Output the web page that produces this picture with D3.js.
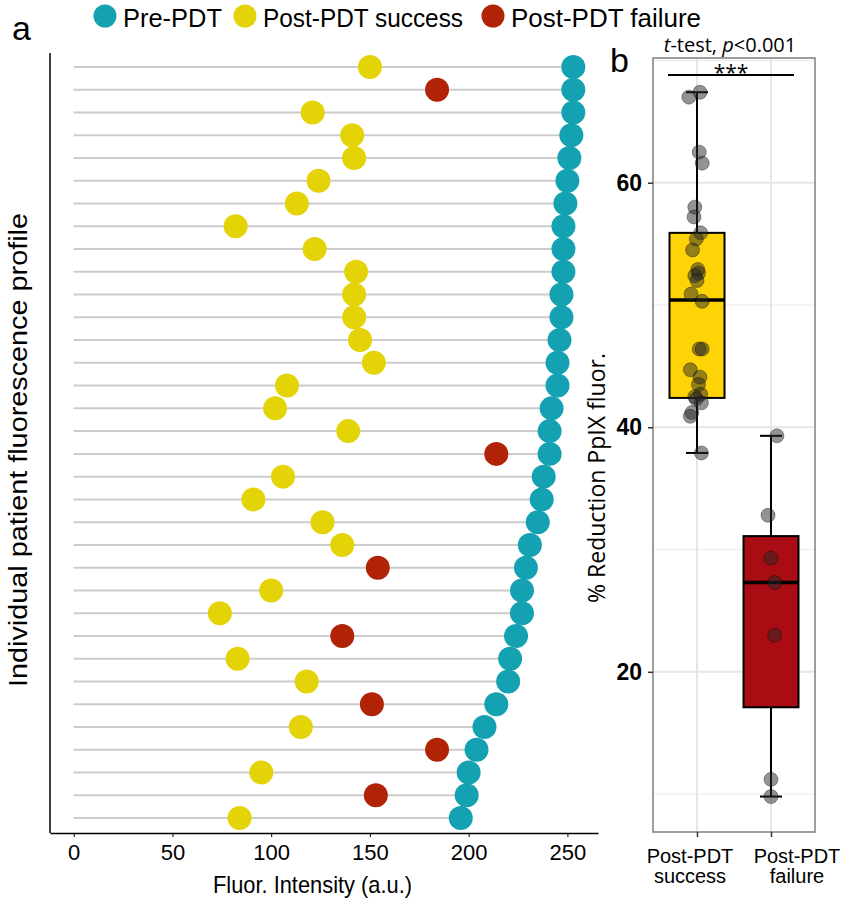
<!DOCTYPE html>
<meta charset="utf-8">
<script src="https://d3js.org/d3.v7.min.js"></script>
<style>
  body { margin: 0; background: #fff; }
  svg text { font-family: "Liberation Sans", Arial, sans-serif; }
  svg text.calib { font-family: "Open Sans", sans-serif; }
</style>
<div id="chart"></div>
<script>
  // panel a: one row per patient, top to bottom
  var preValues  = [253, 253, 253, 252, 251, 250, 249, 248, 248, 248, 247, 247, 246, 245, 245, 242, 241,
                    241, 238, 237, 235, 231, 229, 227, 227, 224, 221, 220, 214, 208, 204, 200, 199, 196];
  var postValues = [150, 184, 121, 141, 142, 124, 113, 82, 122, 143, 142, 142, 145, 152, 108, 102, 139,
                    214, 106, 91, 126, 136, 154, 100, 74, 136, 83, 118, 151, 115, 184, 95, 153, 84];
  var outcome    = ["S", "F", "S", "S", "S", "S", "S", "S", "S", "S", "S", "S", "S", "S", "S", "S", "S",
                    "F", "S", "S", "S", "S", "F", "S", "S", "F", "S", "S", "F", "S", "F", "S", "F", "S"];
  var xTicks = [0, 50, 100, 150, 200, 250];

  // panel b: % reduction
  var groups = ["Post-PDT success", "Post-PDT failure"];
  var successPts = [67.4, 67.0, 62.5, 61.6, 58.0, 57.2, 55.9, 55.4, 54.5, 52.9, 52.6, 52.4, 52.0, 50.9,
                    50.3, 46.4, 46.4, 44.7, 44.1, 43.5, 42.7, 42.5, 42.3, 42.0, 41.2, 40.9, 37.9];
  var successJitter = [0.04, -0.11, 0.03, 0.07, -0.03, -0.04, 0.05, -0.01, -0.06, 0.01, 0.02, -0.03, 0.0,
                       -0.08, 0.07, 0.03, 0.07, -0.09, 0.04, 0.02, 0.05, -0.03, -0.01, 0.06, -0.07, -0.09, 0.06];
  var failurePts = [39.3, 32.8, 29.3, 27.3, 23.0, 11.2, 9.8];
  var failureJitter = [0.08, -0.04, 0.0, 0.05, 0.05, 0.0, 0.0];
  // box stats: [whiskerLow, q1, median, q3, whiskerHigh]
  var successBox = [37.9, 42.4, 50.4, 55.9, 67.4];
  var failureBox = [9.8, 17.1, 27.3, 31.1, 39.3];
  var yTicksB = [20, 40, 60];
  var yMinorB = [10, 30, 50, 70];

  var colPre = "#14a1b1", colSuccess = "#e3d307", colFail = "#b02306";

  var svg = d3.select("#chart").append("svg")
    .attr("width", 848).attr("height", 900);

  // ---------- panel a ----------
  var x = d3.scaleLinear().domain([-12, 265.5]).range([50, 598]);
  var rows = d3.range(preValues.length);
  var y = d3.scalePoint().domain(rows).range([67, 818]);

  var ga = svg.append("g");

  ga.selectAll(".seg").data(rows).enter().append("line")
    .attr("x1", x(0)).attr("x2", function (i) { return x(preValues[i]); })
    .attr("y1", function (i) { return y(i); }).attr("y2", function (i) { return y(i); })
    .attr("stroke", "#cccccc").attr("stroke-width", 2);

  ga.selectAll(".post").data(rows).enter().append("circle")
    .attr("cx", function (i) { return x(postValues[i]); })
    .attr("cy", function (i) { return y(i); })
    .attr("r", 12)
    .attr("fill", function (i) { return outcome[i] === "S" ? colSuccess : colFail; });

  ga.selectAll(".pre").data(rows).enter().append("circle")
    .attr("cx", function (i) { return x(preValues[i]); })
    .attr("cy", function (i) { return y(i); })
    .attr("r", 12)
    .attr("fill", colPre);

  // axes
  ga.append("line").attr("x1", 50).attr("x2", 50).attr("y1", 53).attr("y2", 833)
    .attr("stroke", "#000").attr("stroke-width", 1.5);
  var xAxis = ga.append("g").attr("transform", "translate(0,833)")
    .call(d3.axisBottom(x).tickValues(xTicks).tickSize(4).tickSizeOuter(0));
  xAxis.select(".domain").attr("stroke-width", 1.5);
  xAxis.selectAll("text").attr("font-size", 22).attr("fill", "#000").attr("dy", "0.9em");

  ga.append("text").attr("x", 213).attr("y", 893)
    .attr("font-size", 24).attr("textLength", 199).attr("lengthAdjust", "spacingAndGlyphs")
    .text("Fluor. Intensity (a.u.)");
  ga.append("text").attr("transform", "translate(27,687) rotate(-90)")
    .attr("font-size", 26).attr("textLength", 474).attr("lengthAdjust", "spacingAndGlyphs")
    .text("Individual patient fluorescence profile");
  ga.append("text").attr("x", 12).attr("y", 40).attr("font-size", 34).text("a");

  // legend
  var legend = [["Pre-PDT", colPre, 105, 99], ["Post-PDT success", colSuccess, 245, 200],
                ["Post-PDT failure", colFail, 493, 190]];
  var lg = svg.selectAll(".lg").data(legend).enter().append("g");
  lg.append("circle").attr("cx", function (d) { return d[2]; }).attr("cy", 16).attr("r", 11.5)
    .attr("fill", function (d) { return d[1]; });
  lg.append("text").attr("x", function (d) { return d[2] + 18; }).attr("y", 27)
    .attr("font-size", 26)
    .attr("textLength", function (d) { return d[3]; }).attr("lengthAdjust", "spacingAndGlyphs")
    .text(function (d) { return d[0]; });

  // ---------- panel b ----------
  var yb = d3.scaleLinear().domain([6.9, 70.2]).range([832, 58]);
  var xb = d3.scalePoint().domain(groups).range([697, 771]);
  var boxW = 55, capW = 22;
  var gb = svg.append("g");

  gb.selectAll(".minor").data(yMinorB).enter().append("line")
    .attr("x1", 653).attr("x2", 815)
    .attr("y1", function (d) { return yb(d); }).attr("y2", function (d) { return yb(d); })
    .attr("stroke", "#f0f0f0").attr("stroke-width", 1.5);
  gb.selectAll(".major").data(yTicksB).enter().append("line")
    .attr("x1", 653).attr("x2", 815)
    .attr("y1", function (d) { return yb(d); }).attr("y2", function (d) { return yb(d); })
    .attr("stroke", "#e6e6e6").attr("stroke-width", 2);
  gb.selectAll(".vmajor").data(groups).enter().append("line")
    .attr("x1", function (d) { return xb(d); }).attr("x2", function (d) { return xb(d); })
    .attr("y1", 58).attr("y2", 832)
    .attr("stroke", "#e6e6e6").attr("stroke-width", 2);

  var boxes = [[groups[0], successBox, "#ffd406"], [groups[1], failureBox, "#a90c12"]];
  boxes.forEach(function (b) {
    var cx = xb(b[0]), s = b[1];
    gb.append("line").attr("x1", cx).attr("x2", cx).attr("y1", yb(s[0])).attr("y2", yb(s[4]))
      .attr("stroke", "#000").attr("stroke-width", 2);
    [s[0], s[4]].forEach(function (v) {
      gb.append("line").attr("x1", cx - capW / 2).attr("x2", cx + capW / 2)
        .attr("y1", yb(v)).attr("y2", yb(v)).attr("stroke", "#000").attr("stroke-width", 2);
    });
    gb.append("rect").attr("x", cx - boxW / 2).attr("width", boxW)
      .attr("y", yb(s[3])).attr("height", yb(s[1]) - yb(s[3]))
      .attr("fill", b[2]).attr("stroke", "#000").attr("stroke-width", 2);
    gb.append("line").attr("x1", cx - boxW / 2).attr("x2", cx + boxW / 2)
      .attr("y1", yb(s[2])).attr("y2", yb(s[2])).attr("stroke", "#000").attr("stroke-width", 3.5);
  });

  var step = xb(groups[1]) - xb(groups[0]);
  function pts(values, jit, g) {
    gb.selectAll(null).data(values).enter().append("circle")
      .attr("cx", function (d, i) { return xb(g) + jit[i] * step; })
      .attr("cy", function (d) { return yb(d); })
      .attr("r", 7)
      .attr("fill", "rgba(40,40,40,0.5)")
      .attr("stroke", "rgba(0,0,0,0.35)").attr("stroke-width", 1);
  }
  pts(successPts, successJitter, groups[0]);
  pts(failurePts, failureJitter, groups[1]);

  // panel border
  gb.append("rect").attr("x", 653).attr("y", 58).attr("width", 162).attr("height", 774)
    .attr("fill", "none").attr("stroke", "#7f7f7f").attr("stroke-width", 1.5);

  // y axis
  var yAxB = gb.append("g").attr("transform", "translate(653,0)")
    .call(d3.axisLeft(yb).tickValues(yTicksB).tickSize(5).tickSizeOuter(0));
  yAxB.select(".domain").remove();
  yAxB.selectAll("line").attr("stroke", "#333").attr("stroke-width", 1.5);
  yAxB.selectAll("text").attr("font-size", 23).attr("font-weight", "bold").attr("fill", "#000")
    .attr("x", -11);

  // x axis
  var xAxB = gb.append("g").attr("transform", "translate(0,832)")
    .call(d3.axisBottom(xb).tickSize(5).tickSizeOuter(0).tickFormat(""));
  xAxB.select(".domain").remove();
  xAxB.selectAll("line").attr("stroke", "#333").attr("stroke-width", 1.5);
  var labelX = [690, 797];
  groups.forEach(function (g, i) {
    var parts = g.split(" ");
    var t = gb.append("text").attr("y", 863).attr("text-anchor", "middle").attr("font-size", 20);
    t.append("tspan").attr("x", labelX[i]).text(parts[0]);
    t.append("tspan").attr("x", labelX[i]).attr("dy", 20).text(parts[1]);
  });

  gb.append("text").attr("class", "calib").attr("transform", "translate(605,603) rotate(-90)")
    .attr("font-size", 23).attr("textLength", 250).attr("lengthAdjust", "spacingAndGlyphs")
    .text("% Reduction PpIX fluor.");

  // significance
  gb.append("line").attr("x1", 668).attr("x2", 794).attr("y1", 75).attr("y2", 75)
    .attr("stroke", "#000").attr("stroke-width", 2);
  gb.append("text").attr("class", "calib").attr("x", 731).attr("y", 80).attr("text-anchor", "middle")
    .attr("font-size", 21).text("***");
  var tt = gb.append("text").attr("class", "calib").attr("x", 730).attr("y", 52)
    .attr("text-anchor", "middle").attr("font-size", 20);
  tt.append("tspan").attr("font-style", "italic").text("t");
  tt.append("tspan").text("-test, ");
  tt.append("tspan").attr("font-style", "italic").text("p");
  tt.append("tspan").text("<0.001");

  gb.append("text").attr("x", 610).attr("y", 72).attr("font-size", 34).text("b");
</script>
